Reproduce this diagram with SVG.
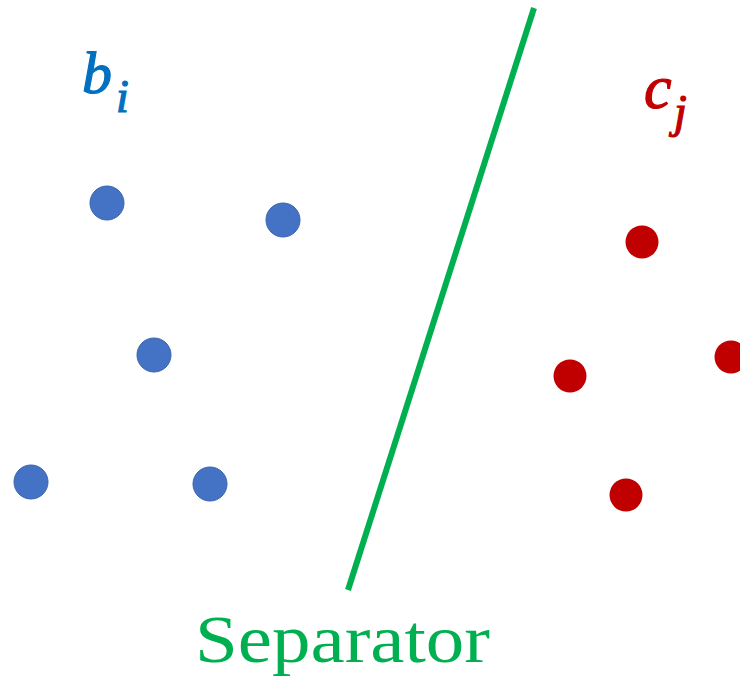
<svg xmlns="http://www.w3.org/2000/svg" width="740" height="680" viewBox="0 0 740 680">
<style>
.b{fill:#4472C4;stroke:#3A64AE;stroke-width:1}
.r{fill:#C00000}
.lbl{font-family:"Liberation Serif",serif;font-style:italic;stroke-width:1.2}
</style>
<rect width="740" height="680" fill="#fff"/>
<g id="connectors">
<line x1="534" y1="8" x2="348" y2="590" stroke="#00B050" stroke-width="6"/>
</g>
<g id="label-b"><text class="lbl" x="82" y="93" font-size="60" fill="#0070C0" stroke="#0070C0">b<tspan x="116" y="112" font-size="46">i</tspan></text></g>
<g id="label-c"><text class="lbl" x="644" y="108" font-size="62" fill="#C00000" stroke="#C00000">c<tspan x="674" y="127" font-size="46">j</tspan></text></g>
<g id="b1"><circle class="b" cx="107" cy="203" r="17"/></g>
<g id="b2"><circle class="b" cx="283" cy="220" r="17"/></g>
<g id="b3"><circle class="b" cx="154" cy="355" r="17"/></g>
<g id="b4"><circle class="b" cx="31" cy="482" r="17"/></g>
<g id="b5"><circle class="b" cx="210" cy="484" r="17"/></g>
<g id="c1"><circle class="r" cx="642" cy="242" r="16.5"/></g>
<g id="c2"><circle class="r" cx="570" cy="376" r="16.5"/></g>
<g id="c3"><circle class="r" cx="731" cy="357" r="16.5"/></g>
<g id="c4"><circle class="r" cx="626" cy="495" r="16.5"/></g>
<g id="separator-label"><text x="195" y="662" font-family="'Liberation Serif',serif" font-size="68" fill="#00B050" textLength="295" lengthAdjust="spacingAndGlyphs">Separator</text></g>
</svg>
